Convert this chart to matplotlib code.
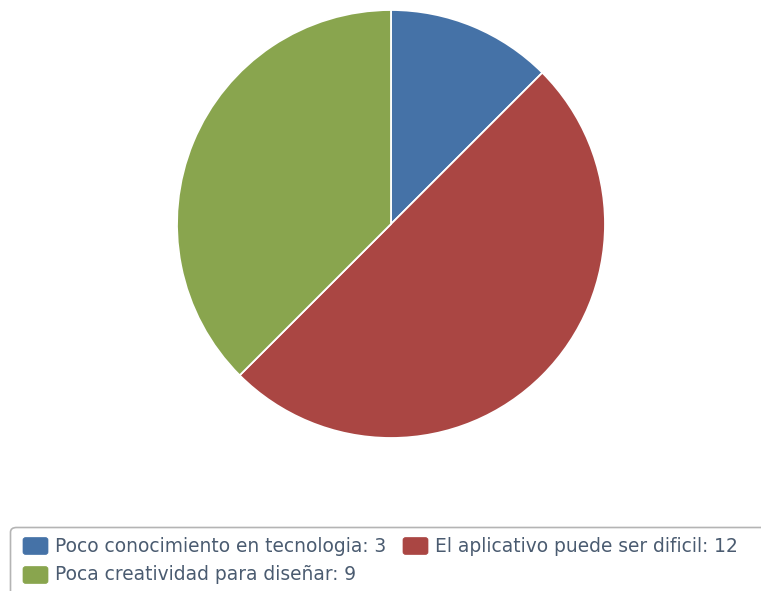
import matplotlib.pyplot as plt
from matplotlib.patches import FancyBboxPatch

labels = ["Poco conocimiento en tecnologia", "El aplicativo puede ser dificil", "Poca creatividad para diseñar"]
values = [3, 12, 9]
colors = ["#4572A7", "#AA4643", "#89A54E"]

W, H = 761, 591
fig = plt.figure(figsize=(W / 100, H / 100), dpi=100)

# pie area in pixels: centre (391, 224), radius 214
cx, cy, r = 391, 224, 214
ax = fig.add_axes([(cx - r) / W, (H - cy - r) / H, 2 * r / W, 2 * r / H])
ax.pie(values, colors=colors, startangle=90, counterclock=False,
       wedgeprops=dict(edgecolor="white", linewidth=1.3))
ax.set_xlim(-1, 1)
ax.set_ylim(-1, 1)
ax.axis("off")

# legend box
frame = FancyBboxPatch((10.5 / W, -20 / H), 800 / W, (H - 527.5 + 20) / H,
                       boxstyle="round,pad=0,rounding_size=0.008",
                       transform=fig.transFigure, facecolor="white",
                       edgecolor="#b4b4b4", linewidth=1.2)
fig.add_artist(frame)

# legend entries: (swatch x, row centre y) in pixels
slots = [(23, 546), (403, 546), (23, 575)]
for (x, y), lab, val, col in zip(slots, labels, values, colors):
    sw = FancyBboxPatch((x / W, (H - y - 8.5) / H), 25 / W, 17 / H,
                        boxstyle="round,pad=0,rounding_size=0.004",
                        transform=fig.transFigure, facecolor=col,
                        edgecolor=col, linewidth=0.5)
    fig.add_artist(sw)
    fig.text((x + 32) / W, (H - y) / H, f"{lab}: {val}", fontsize=13.4,
             color="#4A5B70", va="center", ha="left", family="DejaVu Sans")

fig.savefig("out.png", dpi=100)
